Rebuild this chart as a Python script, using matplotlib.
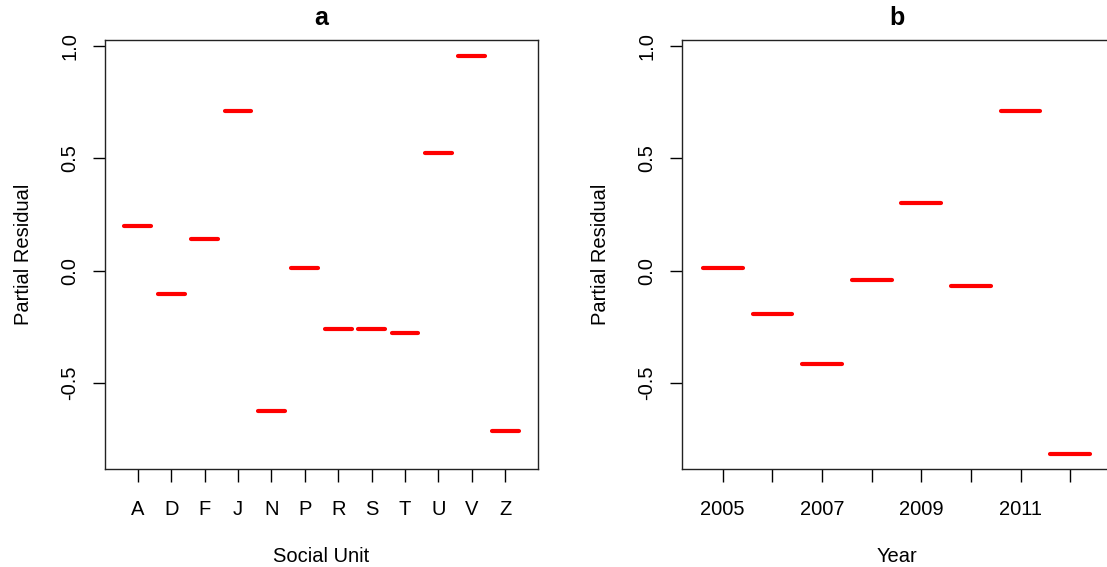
import matplotlib
matplotlib.use("Agg")
import matplotlib.pyplot as plt

plt.rcParams['font.family'] = ['Liberation Sans', 'DejaVu Sans']

# Panel a: social units
units = ["A", "D", "F", "J", "N", "P", "R", "S", "T", "U", "V", "Z"]
unit_resid = [0.198, -0.103, 0.142, 0.710, -0.626, 0.010, -0.261, -0.261, -0.277, 0.523, 0.955, -0.711]

# Panel b: years
years = [2005, 2006, 2007, 2008, 2009, 2010, 2011, 2012]
year_resid = [0.010, -0.194, -0.415, -0.040, 0.300, -0.068, 0.710, -0.816]
year_labels = ["2005", "", "2007", "", "2009", "", "2011", ""]

yticks = [-0.5, 0.0, 0.5, 1.0]
ylim = (-0.882, 1.026)

W, H = 1107, 567
fig = plt.figure(figsize=(W / 100, H / 100), dpi=100)

def px_axes(left, right, top, bottom):
    return fig.add_axes([left / W, 1 - bottom / H, (right - left) / W, (bottom - top) / H])

ax1 = px_axes(105, 538, 40, 469)
ax2 = px_axes(682, 1111, 40, 469)

FS = 14.5

def style(ax, n, labels, title, xlabel):
    pos = list(range(1, n + 1))
    ext = 0.04 * n
    ax.set_xlim(0.5 - ext, n + 0.5 + ext)
    ax.set_ylim(*ylim)
    ax.set_xticks(pos)
    ax.set_xticklabels(labels, fontsize=FS)
    ax.set_yticks(yticks)
    ax.set_yticklabels([f"{v:.1f}" for v in yticks], fontsize=FS, rotation=90,
                       va="center", ha="right")
    ax.tick_params(axis="x", length=9, width=1, pad=13.5, direction="out")
    ax.tick_params(axis="y", length=9, width=1, pad=9.5, direction="out")
    for s in ax.spines.values():
        s.set_linewidth(1)
        s.set_color("#222222")
    ax.set_title(title, fontsize=18, fontweight="bold", pad=11)
    ax.set_xlabel(xlabel, fontsize=FS, labelpad=20)
    ax.set_ylabel("Partial Residual", fontsize=FS, labelpad=20)
    return pos

pos1 = style(ax1, len(units), units, "a", "Social Unit")
ax1.hlines(unit_resid, [p - 0.4 for p in pos1], [p + 0.4 for p in pos1],
           colors="#FF0000", linewidth=3, capstyle="round")

pos2 = style(ax2, len(years), year_labels, "b", "Year")
ax2.hlines(year_resid, [p - 0.4 for p in pos2], [p + 0.4 for p in pos2],
           colors="#FF0000", linewidth=3, capstyle="round")

fig.savefig("out.png", dpi=100)
